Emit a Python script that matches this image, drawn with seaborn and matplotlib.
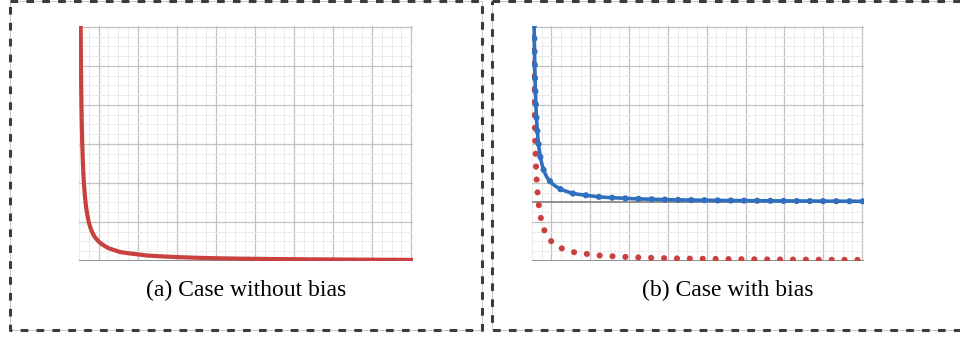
import numpy as np
import pandas as pd
import matplotlib
matplotlib.use('Agg')
import matplotlib.pyplot as plt
import seaborn as sns
from matplotlib.ticker import MultipleLocator, FixedLocator
from matplotlib.lines import Line2D

# values (grid units: one major cell = 1)
x_vals = [0.03, 0.04, 0.05, 0.06, 0.07, 0.08, 0.10, 0.12, 0.15, 0.18, 0.22,
          0.26, 0.30, 0.35, 0.40, 0.50, 0.60, 0.75, 0.90, 1.05, 1.25, 1.50,
          1.75, 2.00, 2.50, 3.00, 3.50, 4.00, 5.00, 6.00, 7.00, 8.00, 8.60]
loss_plain = [8.30, 6.25, 5.00, 4.17, 3.57, 3.12, 2.50, 2.08, 1.67, 1.39, 1.14,
              0.96, 0.83, 0.71, 0.62, 0.50, 0.42, 0.33, 0.28, 0.23, 0.20, 0.17,
              0.14, 0.125, 0.10, 0.083, 0.071, 0.062, 0.050, 0.042, 0.036, 0.031, 0.029]
loss_bias = [9.80, 7.75, 6.50, 5.67, 5.07, 4.62, 4.00, 3.58, 3.17, 2.89, 2.64,
             2.46, 2.33, 2.21, 2.12, 2.00, 1.92, 1.83, 1.78, 1.73, 1.70, 1.67,
             1.64, 1.625, 1.60, 1.583, 1.571, 1.562, 1.550, 1.542, 1.536, 1.531, 1.529]
bias_level = 1.5
captions = ['(a) Case without bias', '(b) Case with bias']

df = pd.DataFrame({'x': x_vals, 'plain': loss_plain, 'bias': loss_bias})

sns.set_style('white')
plt.rcParams['font.family'] = ['Liberation Serif', 'DejaVu Serif']

RED = '#c9403f'
BLUE = '#2f6fbd'
W, H = 960, 339

fig = plt.figure(figsize=(W / 100, H / 100), dpi=100)


def px_axes(x0, x1, ytop, ybot):
    return fig.add_axes([x0 / W, (H - ybot) / H, (x1 - x0) / W, (ybot - ytop) / H])


def style_grid(ax):
    ax.set_xlim(0, 8.55)
    ax.set_ylim(0, 6.02)
    ax.xaxis.set_major_locator(FixedLocator(np.arange(0.5, 9, 1.0)))
    ax.xaxis.set_minor_locator(FixedLocator(np.arange(0.0, 8.6, 0.25)))
    ax.yaxis.set_major_locator(MultipleLocator(1))
    ax.yaxis.set_minor_locator(MultipleLocator(0.25))
    ax.grid(which='major', color='#c2c2c2', linewidth=0.9)
    ax.grid(which='minor', color='#ebebeb', linewidth=0.7)
    ax.tick_params(which='both', length=0, labelbottom=False, labelleft=False)
    ax.set_axisbelow(True)
    for s in ax.spines.values():
        s.set_visible(False)
    ax.set_xlabel('')
    ax.set_ylabel('')
    ax.axhline(0, color='#808080', linewidth=1.2, zorder=1)


# (a) case without bias
ax1 = px_axes(79, 413, 26, 261)
sns.lineplot(data=df, x='x', y='plain', ax=ax1, color=RED, linewidth=3.0,
             solid_capstyle='butt', zorder=3)
style_grid(ax1)

# (b) case with bias
ax2 = px_axes(532, 864, 26, 261)
sns.lineplot(data=df, x='x', y='plain', ax=ax2, color=RED, linewidth=4.4,
             linestyle=(0, (0.01, 2.1)), dash_capstyle='round', zorder=3)
sns.lineplot(data=df, x='x', y='bias', ax=ax2, color=BLUE, linewidth=2.6,
             zorder=4)
sns.lineplot(data=df, x='x', y='bias', ax=ax2, color=BLUE, linewidth=4.5,
             linestyle=(0, (0.01, 2.1)), dash_capstyle='round', zorder=5)
style_grid(ax2)
ax2.axhline(bias_level, color='#808080', linewidth=1.2, zorder=1)

# captions
fig.text(246 / W, (H - 290) / H, captions[0], ha='center', va='center',
         fontsize=17, color='black')
fig.text(728 / W, (H - 290) / H, captions[1], ha='center', va='center',
         fontsize=17, color='black')

# dashed panel frames (pixel coordinates)
def frame(x0, x1, y0, y1):
    pts_x = [x0, x1, x1, x0, x0]
    pts_y = [y0, y0, y1, y1, y0]
    fx = [p / W for p in pts_x]
    fy = [(H - p) / H for p in pts_y]
    fig.add_artist(Line2D(fx, fy, transform=fig.transFigure, color='#bdbdbd',
                          linewidth=0.6))
    fig.add_artist(Line2D(fx, fy, transform=fig.transFigure, color='#3c3c3c',
                          linewidth=2.2, linestyle=(0, (2.5, 2.7))))

frame(10, 481.5, 1.3, 330)
frame(491.5, 975, 1.3, 330)

fig.savefig('out.png', dpi=100)
